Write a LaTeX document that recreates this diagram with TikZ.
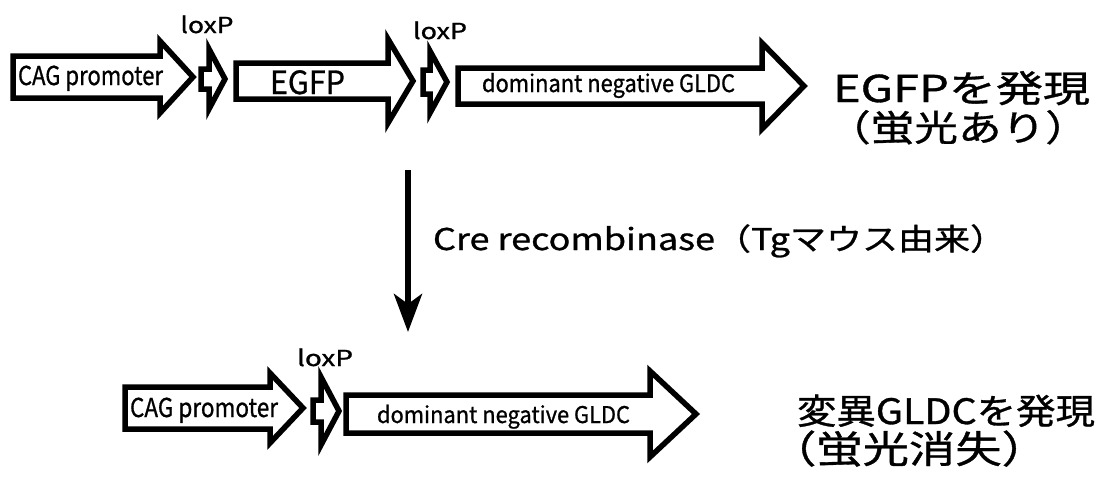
\documentclass[tikz,border=0pt]{standalone}
\usepackage{graphicx}
\usepackage{fontspec}
\setmainfont{Noto Sans CJK JP}[FakeBold=0.9]
\usetikzlibrary{arrows.meta}

% stretch text horizontally so that its box is #1 wide
\newlength\natw
\newcommand\fitw[2]{\settowidth\natw{#2}\scalebox{\fpeval{#1/\natw}}[1]{#2}}
% stretch #3 by the factor that makes #2 exactly #1 wide
\newcommand\fitby[3]{\settowidth\natw{#2}\scalebox{\fpeval{#1/\natw}}[1]{#3}}
\newcommand\fs[1]{\fontsize{#1}{#1}\selectfont}

% gene block arrow: x0 (tail), xb (head base), xt (tip), y (axis), h (half body), H (half head)
\newcommand\genearrow[6]{%
  \draw[gene] (#1,#4-#5) -- (#2,#4-#5) -- (#2,#4-#6) -- (#3,#4)
    -- (#2,#4+#6) -- (#2,#4+#5) -- (#1,#4+#5) -- cycle;}

\tikzset{
  gene/.style={draw=black, fill=white, line width=5.5pt, line join=miter, miter limit=20},
  lbl/.style={inner sep=0pt, outer sep=0pt, text=black},
  flow/.style={line width=6pt, -{Stealth[length=38pt, width=28pt, inset=10pt]}}
}

\begin{document}
\begin{tikzpicture}[x=1pt, y=-1pt]
\useasboundingbox (0,0) rectangle (1100,491);
\fill[white] (0,0) rectangle (1100,491);

% ---- construct before recombination ----
\genearrow{13}{160}{193}{77}{21}{36}     % CAG promoter
\genearrow{201}{209}{225}{79}{10}{30}    % loxP
\genearrow{236}{388}{413}{81}{18}{42}    % EGFP
\genearrow{423}{430}{447}{82}{12}{31}    % loxP
\genearrow{458}{762}{804}{86}{18}{43}    % dominant negative GLDC

\node[lbl, anchor=base west] (cag1) at (18,85) {\fs{26}\fitw{145pt}{CAG promoter}};
\node[lbl, anchor=base] (lox1) at (207,33) {\fs{22}\fitw{53pt}{loxP}};
\node[lbl, anchor=base west] (egfp) at (270,94) {\fs{32}\fitw{75pt}{EGFP}};
\node[lbl, anchor=base] (lox2) at (440,39) {\fs{22}\fitw{54pt}{loxP}};
\node[lbl, anchor=base west] (dn1) at (482,92) {\fs{24}\fitw{253pt}{dominant negative GLDC}};

\node[lbl, anchor=base west] (res1) at (833,102) {\fs{37}\fitw{257pt}{EGFPを発現}};
\node[lbl, anchor=base] (res1b) at (958,141) {\fs{36}\fitw{262pt}{（蛍光あり）}};

% ---- Cre recombination ----
\coordinate (creTop) at (408,170);
\coordinate (creBot) at (408,332);
\draw[flow] (creTop) -- (creBot);
\node[lbl, anchor=base west] (cre) at (433,250)
  {\fs{30}\fitby{282pt}{Cre recombinase}{Cre recombinase（Tgマウス由来）}};

% ---- construct after recombination ----
\genearrow{125}{270}{303}{408}{21}{35}   % CAG promoter
\genearrow{313}{321}{339}{411}{11}{34}   % loxP
\genearrow{346}{650}{696}{414}{19}{43}   % dominant negative GLDC

\node[lbl, anchor=base west] (cag2) at (130,417) {\fs{26}\fitw{148pt}{CAG promoter}};
\node[lbl, anchor=base] (lox3) at (325,366) {\fs{22}\fitw{56pt}{loxP}};
\node[lbl, anchor=base west] (dn2) at (377,423) {\fs{23}\fitw{253pt}{dominant negative GLDC}};

\node[lbl, anchor=base west] (res2) at (797,424) {\fs{35}\fitw{298pt}{変異GLDCを発現}};
\node[lbl, anchor=base] (res2b) at (909,463) {\fs{38}\fitw{278pt}{（蛍光消失）}};
\end{tikzpicture}
\end{document}
